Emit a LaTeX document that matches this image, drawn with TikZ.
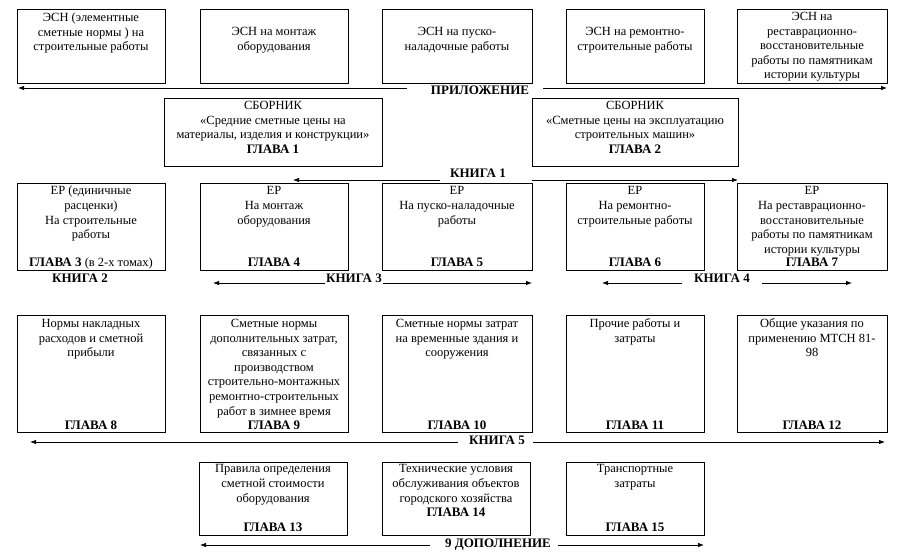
\documentclass[tikz,border=0pt]{standalone}
\usepackage{fontspec}
\setmainfont{Liberation Serif}
\usetikzlibrary{arrows.meta}
\newcommand\mybox[5]{\node[box, minimum width={#4pt-#2pt}, minimum height={#5pt-#3pt}] (#1) at ({(#2+#4)/2},{(#3+#5)/2}) {};}
\newcommand\bfx{\fontsize{13}{14.5}\selectfont\bfseries}
\begin{document}
\begin{tikzpicture}[x=1pt,y=-1pt,
  box/.style={draw, line width=1pt, inner sep=0pt, outer sep=0pt},
  txt/.style={inner sep=0pt, align=center, font=\fontsize{12.5}{14.6}\selectfont, anchor=north},
  gl/.style={inner sep=0pt, font=\bfx, anchor=base},
  lbl/.style={inner sep=0pt, font=\bfx},
  arr/.style={line width=0.8pt, -{Latex[length=6pt,width=4.5pt]}}]
\useasboundingbox (0,0) rectangle (899,554);
\fill[white] (0,0) rectangle (899,554);
% Row 1
\mybox{A}{17}{9}{165}{83}
\mybox{B}{200}{9}{348}{83}
\mybox{C}{382}{9}{532}{83}
\mybox{D}{566}{9}{704}{83}
\mybox{E}{737}{9}{887}{83}
\node[txt] (At) at (91,11) {\strut ЭСН (элементные\\сметные нормы ) на\\строительные работы};
\node[txt] (Bt) at (274,10.5) {\strut\\ЭСН на монтаж\\оборудования};
\node[txt] (Ct) at (457,10.5) {\strut\\ЭСН на пуско-\\наладочные работы};
\node[txt] (Dt) at (635,10.5) {\strut\\ЭСН на ремонтно-\\строительные работы};
\node[txt] (Et) at (812,10) {\strut ЭСН на\\реставрационно-\\восстановительные\\работы по памятникам\\истории культуры};
% Приложение
\node[lbl] (pr) at (480,90) {ПРИЛОЖЕНИЕ};
\coordinate (pr1) at (407,88); \coordinate (pr2) at (18,88);
\coordinate (pr3) at (543,88); \coordinate (pr4) at (887,88);
\draw[arr] (pr1) -- (pr2);
\draw[arr] (pr3) -- (pr4);
% Row 2
\mybox{G1}{164}{98}{382}{166}
\mybox{G2}{532}{98}{738}{166}
\node[txt] (G1t) at (273,99) {\strut СБОРНИК\\«Средние сметные цены на\\материалы, изделия и конструкции»\\{\bfx ГЛАВА 1}};
\node[txt] (G2t) at (635,99) {\strut СБОРНИК\\«Сметные цены на эксплуатацию\\строительных машин»\\{\bfx ГЛАВА 2}};
% Книга 1
\node[lbl] (k1) at (478,173) {КНИГА 1};
\coordinate (k1a) at (440,180); \coordinate (k1b) at (293,180);
\coordinate (k1c) at (532,180); \coordinate (k1d) at (738,180);
\draw[arr] (k1a) -- (k1b);
\draw[arr] (k1c) -- (k1d);
% Row 3
\mybox{F1}{17}{183}{165}{270}
\mybox{F2}{200}{183}{348}{270}
\mybox{F3}{382}{183}{532}{270}
\mybox{F4}{566}{183}{704}{270}
\mybox{F5}{737}{183}{887}{270}
\node[txt] (F1t) at (91,184.5) {\strut ЕР (единичные\\расценки)\\На строительные\\работы};
\node[txt] (F2t) at (274,184.5) {\strut ЕР\\На монтаж\\оборудования};
\node[txt] (F3t) at (457,184.5) {\strut ЕР\\На пуско-наладочные\\работы};
\node[txt] (F4t) at (635,184.5) {\strut ЕР\\На ремонтно-\\строительные работы};
\node[txt] (F5t) at (812,184.5) {\strut ЕР\\На реставрационно-\\восстановительные\\работы по памятникам\\истории культуры};
\node[gl] (F1g) at (91,266.5) {ГЛАВА 3 {\mdseries\fontsize{12.5}{14.6}\selectfont(в 2-х томах)}};
\node[gl] (F2g) at (274,266.5) {ГЛАВА 4};
\node[gl] (F3g) at (457,266.5) {ГЛАВА 5};
\node[gl] (F4g) at (635,266.5) {ГЛАВА 6};
\node[gl] (F5g) at (812,266.5) {ГЛАВА 7};
% Книги 2,3,4
\node[lbl] (k2) at (80,278) {КНИГА 2};
\node[gl] (k3) at (354,282.5) {КНИГА 3};
\coordinate (k3a) at (325,283); \coordinate (k3b) at (213,283);
\coordinate (k3c) at (383,283); \coordinate (k3d) at (532,283);
\draw[arr] (k3a) -- (k3b);
\draw[arr] (k3c) -- (k3d);
\node[lbl] (k4) at (722,278) {КНИГА 4};
\coordinate (k4a) at (682,283); \coordinate (k4b) at (602,283);
\coordinate (k4c) at (762,283); \coordinate (k4d) at (852,283);
\draw[arr] (k4a) -- (k4b);
\draw[arr] (k4c) -- (k4d);
% Row 4
\mybox{H1}{17}{315}{165}{432}
\mybox{H2}{200}{315}{348}{432}
\mybox{H3}{382}{315}{532}{432}
\mybox{H4}{566}{315}{704}{432}
\mybox{H5}{737}{315}{887}{432}
\node[txt] (H1t) at (91,317) {\strut Нормы накладных\\расходов и сметной\\прибыли};
\node[txt] (H2t) at (274,317) {\strut Сметные нормы\\дополнительных затрат,\\связанных с\\производством\\строительно-монтажных\\ремонтно-строительных\\работ в зимнее время};
\node[txt] (H3t) at (457,317) {\strut Сметные нормы затрат\\на временные здания и\\сооружения};
\node[txt] (H4t) at (635,317) {\strut Прочие работы и\\затраты};
\node[txt] (H5t) at (812,317) {\strut Общие указания по\\применению МТСН 81-\\98};
\node[gl] (H1g) at (91,429.5) {ГЛАВА 8};
\node[gl] (H2g) at (274,429.5) {ГЛАВА 9};
\node[gl] (H3g) at (457,429.5) {ГЛАВА 10};
\node[gl] (H4g) at (635,429.5) {ГЛАВА 11};
\node[gl] (H5g) at (812,429.5) {ГЛАВА 12};
% Книга 5
\node[lbl] (k5) at (497,440) {КНИГА 5};
\coordinate (k5a) at (458,442); \coordinate (k5b) at (30,442);
\coordinate (k5c) at (533,442); \coordinate (k5d) at (885,442);
\draw[arr] (k5a) -- (k5b);
\draw[arr] (k5c) -- (k5d);
% Row 5
\mybox{I1}{199}{462}{347}{535}
\mybox{I2}{382}{462}{530}{535}
\mybox{I3}{566}{462}{704}{535}
\node[txt] (I1t) at (273,462.5) {\strut Правила определения\\сметной стоимости\\оборудования};
\node[txt] (I2t) at (456,462.5) {\strut Технические условия\\обслуживания объектов\\городского хозяйства\\{\bfx ГЛАВА 14}};
\node[txt] (I3t) at (635,462.5) {\strut Транспортные\\затраты};
\node[gl] (I1g) at (273,531.5) {ГЛАВА 13};
\node[gl] (I3g) at (635,531.5) {ГЛАВА 15};
% 9 Дополнение
\node[lbl] (dp) at (498,545) {9 ДОПОЛНЕНИЕ};
\coordinate (dpa) at (430,545); \coordinate (dpb) at (200,545);
\coordinate (dpc) at (558,545); \coordinate (dpd) at (704,545);
\draw[arr] (dpa) -- (dpb);
\draw[arr] (dpc) -- (dpd);
\end{tikzpicture}
\end{document}
